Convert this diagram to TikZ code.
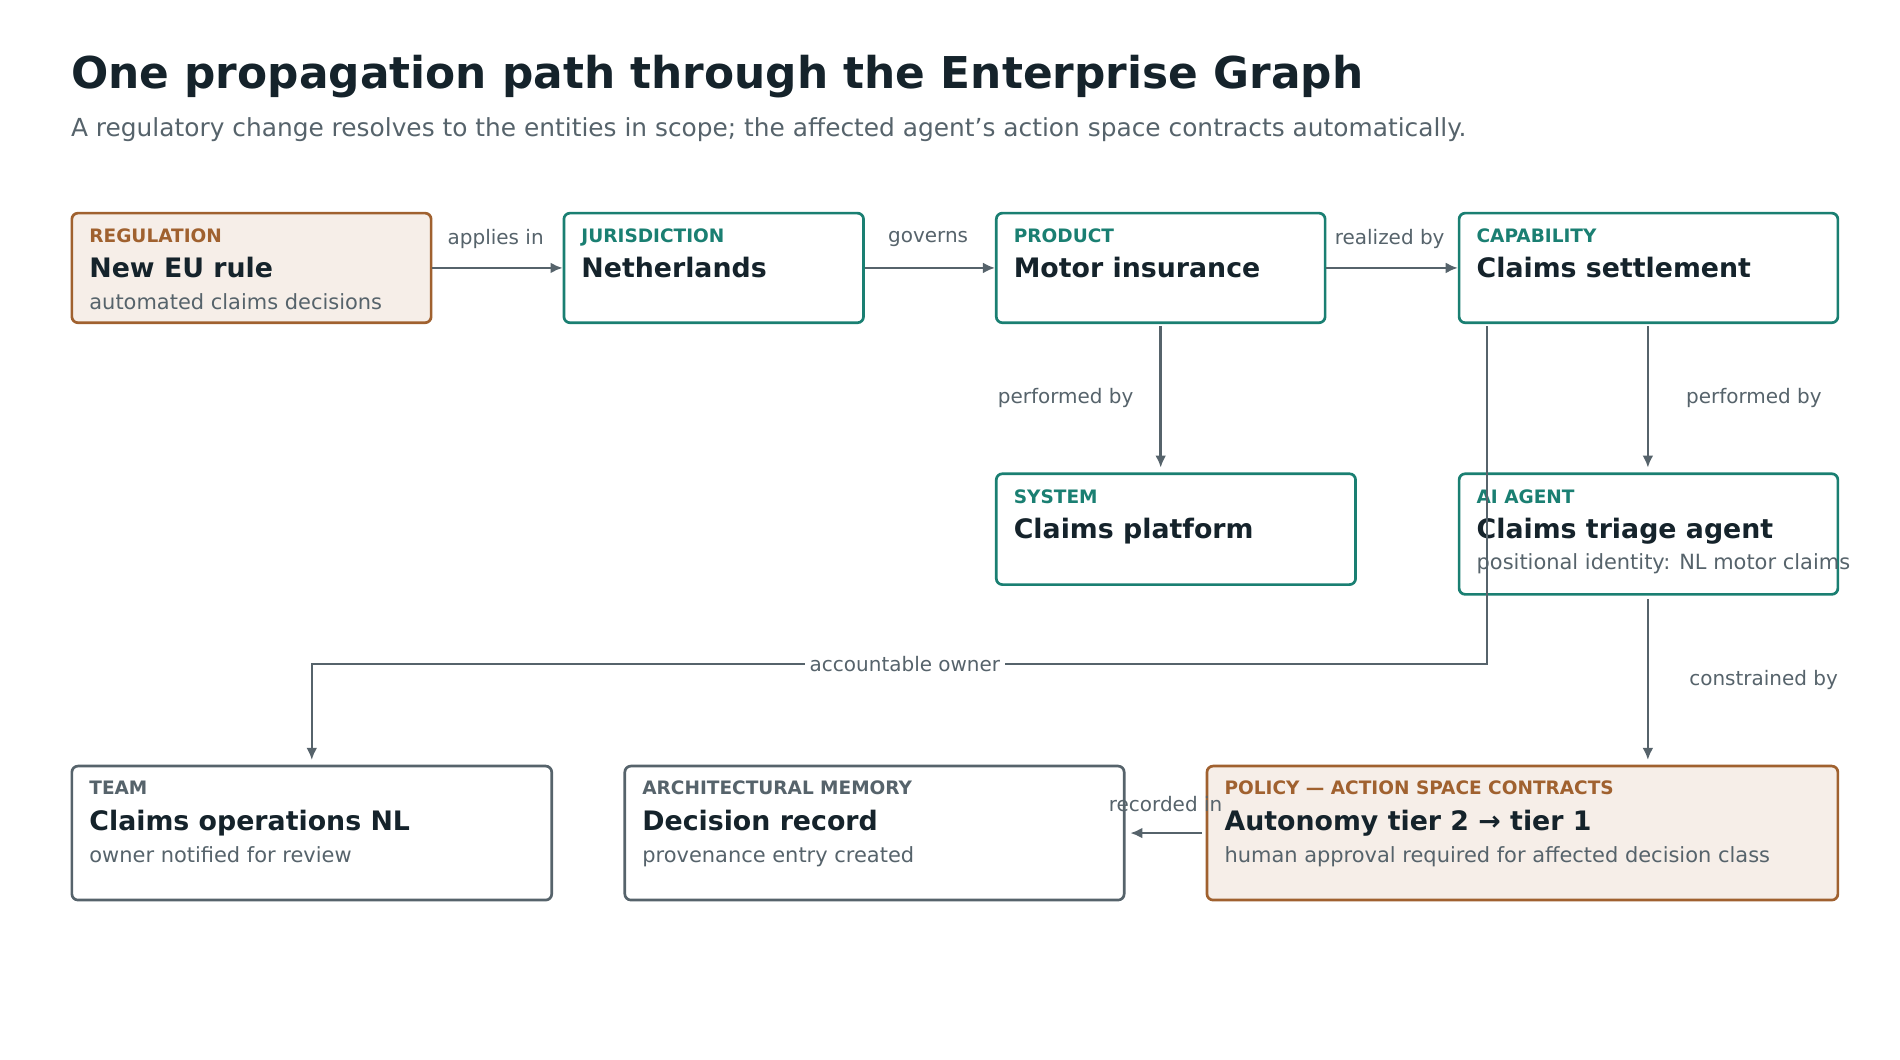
\documentclass[tikz,border=0pt]{standalone}
\usepackage{fontspec}
\setmainfont{DejaVu Sans}
\usetikzlibrary{arrows.meta}
\definecolor{ink}{HTML}{15232B}
\definecolor{muted}{HTML}{56636B}
\definecolor{teal}{HTML}{1A7F72}
\definecolor{rust}{HTML}{A0612F}
\definecolor{cream}{HTML}{F6EEE8}
\begin{document}
\begin{tikzpicture}[x=0.5pt,y=-0.5pt,
  box/.style={draw=#1,line width=1.1pt,rounded corners=2.5pt,fill=white,inner sep=0pt},
  cat/.style={anchor=base west,inner sep=0pt,font=\fontsize{7.6}{9}\selectfont\bfseries,text=#1},
  ttl/.style={anchor=base west,inner sep=0pt,font=\fontsize{11}{13}\selectfont\bfseries,text=ink},
  sub/.style={anchor=base west,inner sep=0pt,font=\fontsize{8.6}{10}\selectfont,text=muted},
  lab/.style={inner sep=2pt,font=\fontsize{8.2}{10}\selectfont,text=muted,fill=white},
  edge/.style={draw=muted,line width=1pt,-{Latex[length=5pt,width=4.5pt]}}]
\useasboundingbox (0,0) rectangle (1560,870);
\node[anchor=base west,inner sep=0pt,font=\fontsize{18}{22}\selectfont\bfseries,text=ink] (title) at (58,73) {One propagation path through the Enterprise Graph};
\node[anchor=base west,inner sep=0pt,font=\fontsize{10.2}{12}\selectfont,text=muted] (subtitle) at (58,112) {A regulatory change resolves to the entities in scope; the affected agent’s action space contracts automatically.};
% boxes
\newcommand{\bx}[8]{% name,x1,y1,x2,y2,border,fill,catcolor
  \path[box=#6,fill=#7] (#2,#3) rectangle (#4,#5);
  \coordinate (#1) at ({(#2+#4)/2},{(#3+#5)/2});}
\bx{reg}{59}{175}{354}{265}{rust}{cream}{rust}
\node[cat=rust] (regc) at (73,199) {REGULATION};
\node[ttl] (regt) at (73,228) {New EU rule};
\node[sub] (regs) at (73,254) {automated claims decisions};
\bx{jur}{463}{175}{709}{265}{teal}{white}{teal}
\node[cat=teal] (jurc) at (477,199) {JURISDICTION};
\node[ttl] (jurt) at (477,228) {Netherlands};
\bx{prod}{818}{175}{1088}{265}{teal}{white}{teal}
\node[cat=teal] (prodc) at (832,199) {PRODUCT};
\node[ttl] (prodt) at (832,228) {Motor insurance};
\bx{cap}{1198}{175}{1509}{265}{teal}{white}{teal}
\node[cat=teal] (capc) at (1212,199) {CAPABILITY};
\node[ttl] (capt) at (1212,228) {Claims settlement};
\bx{sys}{818}{389}{1113}{480}{teal}{white}{teal}
\node[cat=teal] (sysc) at (832,413) {SYSTEM};
\node[ttl] (syst) at (832,442) {Claims platform};
\bx{ai}{1198}{389}{1509}{488}{teal}{white}{teal}
\node[cat=teal] (aic) at (1212,413) {AI AGENT};
\node[ttl] (ait) at (1212,442) {Claims triage agent};
\node[sub] (ais) at (1212,468) {positional identity: NL motor claims};
\bx{team}{59}{629}{453}{739}{muted}{white}{muted}
\node[cat=muted] (teamc) at (73,652) {TEAM};
\node[ttl] (teamt) at (73,682) {Claims operations NL};
\node[sub] (teams) at (73,708) {owner notified for review};
\bx{mem}{513}{629}{923}{739}{muted}{white}{muted}
\node[cat=muted] (memc) at (527,652) {ARCHITECTURAL MEMORY};
\node[ttl] (memt) at (527,682) {Decision record};
\node[sub] (mems) at (527,708) {provenance entry created};
\bx{pol}{991}{629}{1509}{739}{rust}{cream}{rust}
\node[cat=rust] (polc) at (1005,652) {POLICY — ACTION SPACE CONTRACTS};
\node[ttl] (polt) at (1005,682) {Autonomy tier 2 → tier 1};
\node[sub] (pols) at (1005,708) {human approval required for affected decision class};
% anchors
\coordinate (a1) at (355,220); \coordinate (b1) at (462,220);
\coordinate (a2) at (710,220); \coordinate (b2) at (817,220);
\coordinate (a3) at (1089,220); \coordinate (b3) at (1197,220);
\coordinate (a4) at (953,268); \coordinate (b4) at (953,384);
\coordinate (a5) at (1353,268); \coordinate (b5) at (1353,384);
\coordinate (a6) at (1221,268); \coordinate (b6) at (256,624);
\coordinate (a7) at (1353,492); \coordinate (b7) at (1353,624);
\coordinate (a8) at (987,684); \coordinate (b8) at (928,684);
\draw[edge] (a1) -- (b1);
\draw[edge] (a2) -- (b2);
\draw[edge] (a3) -- (b3);
\draw[edge] (a4) -- (b4);
\draw[edge] (a5) -- (b5);
\draw[edge] (a6) |- (743,545) -| (b6);
\draw[edge] (a7) -- (b7);
\draw[edge] (a8) -- (b8);
\node[lab] (l1) at (407,196) {applies in};
\node[lab] (l2) at (762,196) {governs};
\node[lab] (l3) at (1141,196) {realized by};
\node[lab] (l4) at (875,327) {performed by};
\node[lab] (l5) at (1440,327) {performed by};
\node[lab] (l6) at (743,545) {accountable owner};
\node[lab] (l7) at (1448,558) {constrained by};
\node[lab,fill=none] (l8) at (957,660) {recorded in};
\end{tikzpicture}
\end{document}
